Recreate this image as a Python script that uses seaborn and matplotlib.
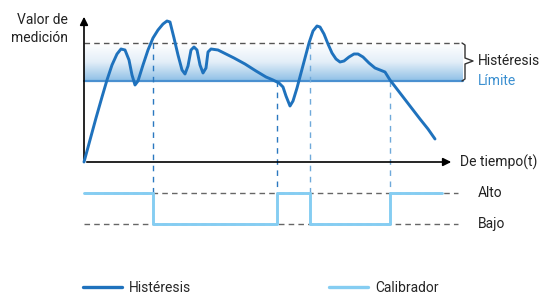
import numpy as np
import pandas as pd
import matplotlib.pyplot as plt
import seaborn as sns
from matplotlib.colors import LinearSegmentedColormap

curve_t = [0, 6, 12, 18, 23, 28, 33, 37, 41, 45, 48, 51, 54, 59, 64, 69, 74, 79, 83, 86,
           90, 94, 98, 101, 104, 107, 110, 113, 116, 119, 122, 124, 127, 134, 142, 150,
           161, 172, 182, 189, 195, 199, 202, 206, 209, 213, 217, 221, 225, 229, 233, 236,
           240, 244, 248, 252, 256, 260, 265, 270, 274, 279, 285, 291, 296, 301, 306, 316,
           326, 336, 344, 351]
curve_v = [0, 22, 44, 65, 82, 97, 108, 113, 112, 102, 87, 77, 81, 97, 112, 124, 132, 138,
           141, 140, 124, 107, 92, 88, 96, 112, 115, 112, 97, 89, 94, 110, 113, 112, 108, 104,
           98, 91, 85, 82, 79, 75, 66, 56, 61, 74, 89, 104, 119, 131, 136, 135, 128, 118, 109,
           103, 100, 101, 105, 108, 108, 105, 99, 94, 92, 90, 82, 69, 56, 43, 33, 23]

limit_value = 81
hyst_value = 119

# calibrator switching
switch_t = [0, 69, 193, 226, 306, 358]
states = ['Alto', 'Bajo', 'Alto', 'Bajo', 'Alto', 'Alto']
level = {'Alto': -31, 'Bajo': -62}
cross_t = [69, 193, 226, 306]
cross_v = [hyst_value, limit_value, hyst_value, limit_value]

dark = '#1f72bd'
light = '#85cdf2'

sns.set_theme(style='white')
plt.rcParams['font.family'] = ['Roboto', 'DejaVu Sans']

fig = plt.figure(figsize=(5.39, 2.95), dpi=100)
ax = fig.add_axes([0, 0, 1, 1])
ax.set_xlim(-84, 455)
ax.set_ylim(-133, 162)
ax.axis('off')

# hysteresis band
cmap = LinearSegmentedColormap.from_list('band', ['#ffffff', '#e3eef8', '#8fc0e6'])
grad = np.linspace(0, 1, 100).reshape(-1, 1)
ax.imshow(grad, extent=[0, 379, limit_value, hyst_value], origin='upper',
          aspect='auto', cmap=cmap, zorder=0)
ax.plot([0, 379], [hyst_value, hyst_value], ls=(0, (4, 3)), color='#555555', lw=1)
ax.plot([0, 379], [limit_value, limit_value], color='#4a90d0', lw=1.6)

# level lines for calibrator
for lv in level.values():
    ax.plot([0, 374], [lv, lv], ls=(0, (4, 3)), color='#666666', lw=1)

# vertical guide lines
for i, (t, v) in enumerate(zip(cross_t, cross_v)):
    col = '#2a78c0' if i < 2 else '#6fa9da'
    ax.plot([t, t], [v, level['Alto']], ls=(0, (4, 4)), color=col, lw=1)

# axes with arrows
ax.annotate('', xy=(370, 0), xytext=(0, 0),
            arrowprops=dict(arrowstyle='-|>', color='black', lw=1.2, mutation_scale=12))
ax.annotate('', xy=(0, 148), xytext=(0, 0),
            arrowprops=dict(arrowstyle='-|>', color='black', lw=1.2, mutation_scale=12))

df = pd.DataFrame({'t': curve_t, 'v': curve_v})
sns.lineplot(data=df, x='t', y='v', ax=ax, color=dark, lw=2.1, sort=False, zorder=5)

sig = pd.DataFrame({'t': switch_t, 'v': [level[s] for s in states]})
sns.lineplot(data=sig, x='t', y='v', ax=ax, color=light, lw=2.1, drawstyle='steps-post',
             zorder=5)

# bracket
bx = 381
ax.plot([bx - 3, bx, bx, bx + 8, bx, bx, bx - 3],
        [hyst_value, hyst_value - 2, 104, 101, 98, limit_value + 2, limit_value],
        color='#333333', lw=1)

fs = 10
ax.text(394, 101, 'Histéresis', fontsize=fs, va='center', ha='left', color='#222222')
ax.text(394, 81, 'Límite', fontsize=fs, va='center', ha='left', color='#3a8fd0')
ax.text(376, 0, 'De tiempo(t)', fontsize=fs, va='center', ha='left', color='#222222')
ax.text(394, level['Alto'], 'Alto', fontsize=fs, va='center', ha='left', color='#222222')
ax.text(394, level['Bajo'], 'Bajo', fontsize=fs, va='center', ha='left', color='#222222')
ax.text(-16, 133, 'Valor de\nmedición', fontsize=fs, va='center', ha='right',
        color='#222222', linespacing=1.4)

# legend
h1, = ax.plot([], [], color=dark, lw=2.4, label='Histéresis')
h2, = ax.plot([], [], color=light, lw=2.4, label='Calibrador')
for h, x0 in [(h1, 83 / 539), (h2, 329 / 539)]:
    fig.legend(handles=[h], loc='center left', bbox_to_anchor=(x0, 0.024),
               frameon=False, fontsize=fs, handlelength=2.8, handletextpad=0.5,
               borderpad=0, borderaxespad=0)

fig.savefig('out.png', dpi=100)
